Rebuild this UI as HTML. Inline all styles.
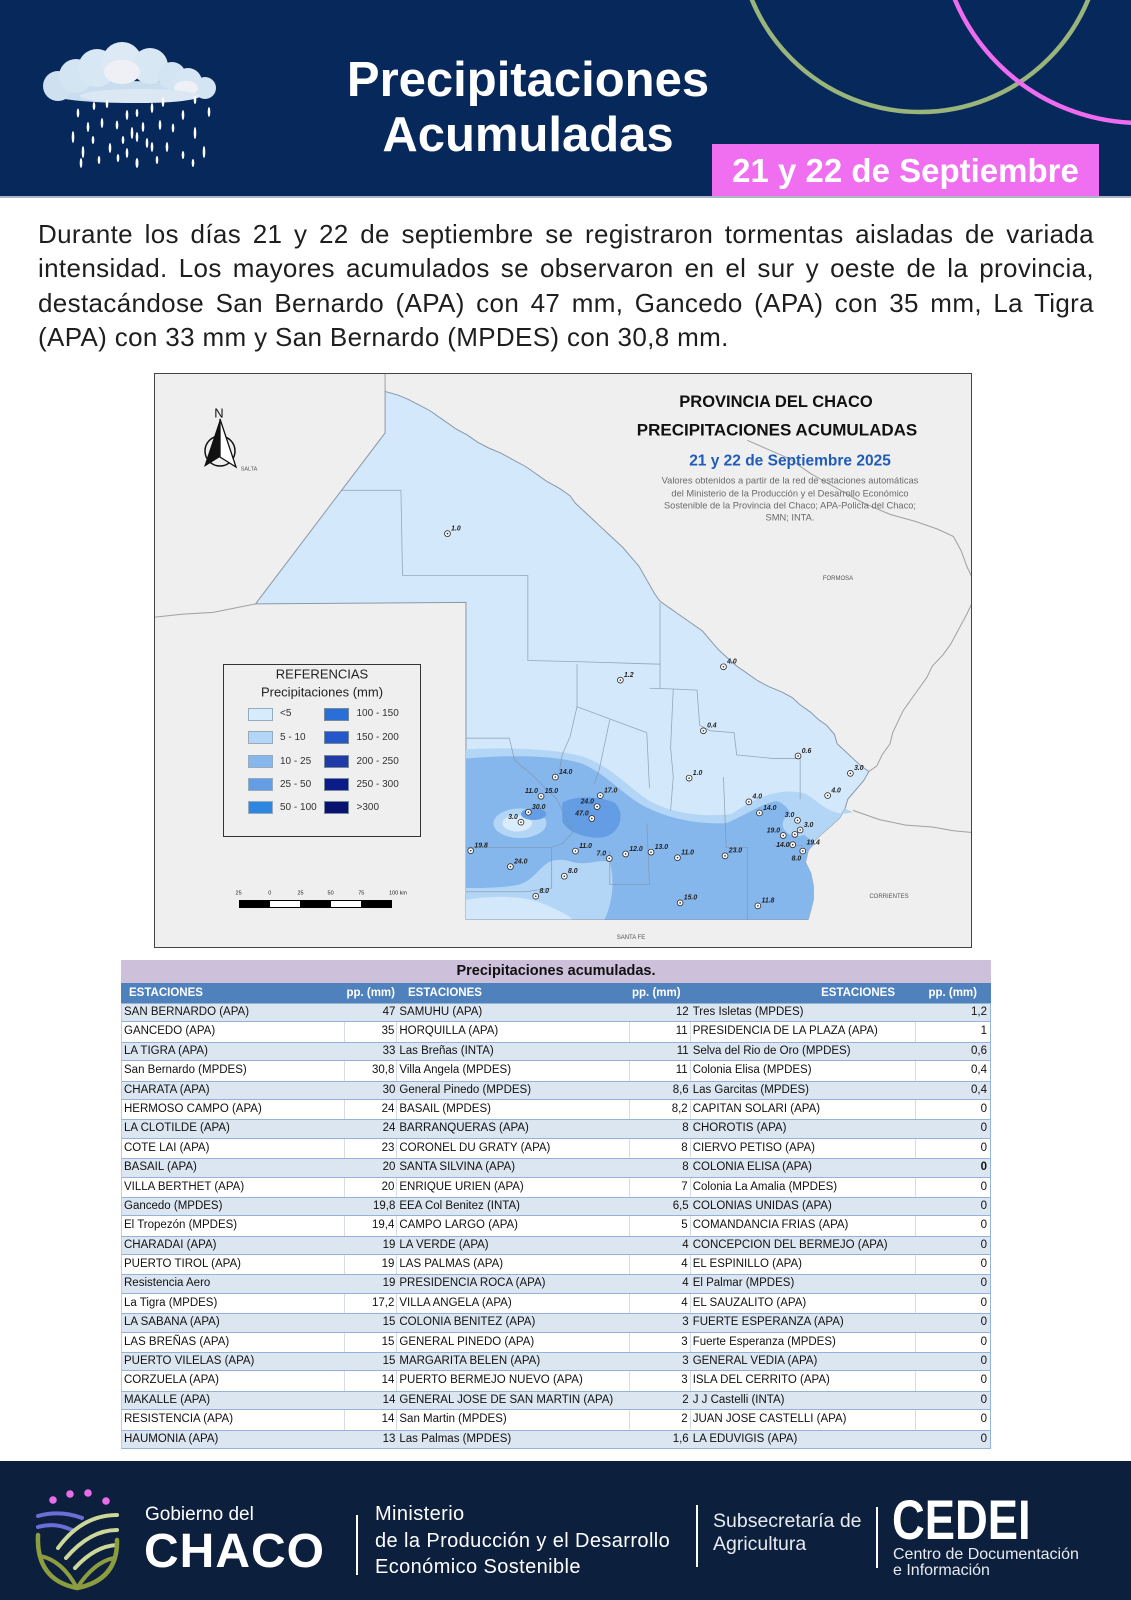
<!DOCTYPE html>
<html><head><meta charset="utf-8">
<style>
*{margin:0;padding:0;box-sizing:border-box}
body{width:1131px;height:1600px;position:relative;overflow:hidden;background:#fff;font-family:"Liberation Sans",sans-serif}
.abs{position:absolute}
.ctr{position:absolute;transform:translate(-50%,-50%);white-space:nowrap;line-height:1}
.pl{position:absolute;left:38px;width:1056px;font-size:26px;line-height:34.4px;letter-spacing:0.35px;color:#1e1e1e;text-align:justify;text-align-last:justify;white-space:nowrap}
.pl.last{text-align:left;text-align-last:left}
.tbl{position:absolute;left:121px;top:960px;width:870px}
.tt{height:23px;background:#ccc0da;text-align:center;font-weight:bold;font-size:14.5px;line-height:23px;color:#111}
.hd{height:20px;background:#4f81bd;color:#fff;font-weight:bold;font-size:11.5px;line-height:20px;display:flex}
.r{display:flex;height:19.4px;font-size:11.5px;line-height:19.4px;color:#111;border-left:1px solid #b8cce4;border-right:1px solid #95b3d7}
.r.b{background:#dce6f1;border-top:1px solid #95b3d7;border-bottom:1px solid #95b3d7;line-height:17.4px}
.r span,.hd span{display:block;white-space:nowrap;overflow:hidden}
.c1{width:224px;padding-left:2px}
.c2{width:52px;text-align:right;padding-right:2px}
.c3{width:233px;padding-left:2px}
.c4{width:61px;text-align:right;padding-right:2px}
.c5{width:226px;padding-left:2px}
.c6{width:74px;text-align:right;padding-right:3px}
.r.w .c1,.r.w .c2,.r.w .c3,.r.w .c4,.r.w .c5{border-right:1px solid #d6dce6}
.st text{font:italic bold 13px "Liberation Sans",sans-serif;fill:#222}
.ft{position:absolute;color:#fff;white-space:nowrap}
</style></head><body>

<!-- HEADER -->
<div class="abs" style="left:0;top:0;width:1131px;height:196px;background:#07285a"></div>
<svg class="abs" style="left:0;top:0" width="1131" height="196">
 <circle cx="920" cy="-70" r="182" fill="none" stroke="#9ab57b" stroke-width="4.5"/>
 <circle cx="1141" cy="-79" r="202" fill="none" stroke="#ee6cf0" stroke-width="4.5"/>
 <g>
  <ellipse cx="128" cy="92" rx="82" ry="11" fill="#c9ddef"/>
  <circle cx="58" cy="86" r="15" fill="#cfe1f1"/>
  <circle cx="76" cy="76" r="17" fill="#d3e4f3"/>
  <circle cx="97" cy="68" r="19" fill="#d8e7f4"/>
  <circle cx="122" cy="62" r="20" fill="#dde9f5"/>
  <circle cx="150" cy="66" r="18" fill="#d8e7f4"/>
  <circle cx="172" cy="76" r="14" fill="#d3e4f3"/>
  <circle cx="188" cy="82" r="14" fill="#d6e6f4"/>
  <circle cx="205" cy="88" r="11" fill="#d3e4f3"/>
  <ellipse cx="122" cy="72" rx="18" ry="12" fill="#eef0f6"/>
  <ellipse cx="186" cy="88" rx="12" ry="7" fill="#eff0f5"/>
  <ellipse cx="140" cy="96" rx="60" ry="7" fill="#dbe8f4"/>
 </g>
 <g fill="#fff">
  <ellipse cx="78" cy="113" rx="1.3" ry="4.5"/><ellipse cx="94" cy="106" rx="1.3" ry="4"/>
  <ellipse cx="107" cy="104" rx="1.3" ry="4"/><ellipse cx="88" cy="127" rx="1.3" ry="5"/>
  <ellipse cx="73" cy="137" rx="1.3" ry="6"/><ellipse cx="102" cy="123" rx="1.3" ry="5"/>
  <ellipse cx="117" cy="125" rx="1.3" ry="4.5"/><ellipse cx="127" cy="115" rx="1.3" ry="5"/>
  <ellipse cx="137" cy="113" rx="1.3" ry="4"/><ellipse cx="152" cy="108" rx="1.3" ry="5"/>
  <ellipse cx="163" cy="102" rx="1.3" ry="5"/><ellipse cx="183" cy="115" rx="1.3" ry="5"/>
  <ellipse cx="195" cy="100" rx="1.3" ry="4"/><ellipse cx="209" cy="112" rx="1.3" ry="5"/>
  <ellipse cx="132" cy="133" rx="1.3" ry="6"/><ellipse cx="137" cy="137" rx="1.3" ry="5"/>
  <ellipse cx="143" cy="127" rx="1.3" ry="5"/><ellipse cx="160" cy="125" rx="1.3" ry="5"/>
  <ellipse cx="173" cy="128" rx="1.3" ry="4.5"/><ellipse cx="195" cy="133" rx="1.3" ry="6"/>
  <ellipse cx="83" cy="152" rx="1.3" ry="6"/><ellipse cx="110" cy="148" rx="1.3" ry="5"/>
  <ellipse cx="93" cy="140" rx="1.3" ry="4"/><ellipse cx="123" cy="140" rx="1.3" ry="4"/>
  <ellipse cx="147" cy="143" rx="1.3" ry="5"/><ellipse cx="167" cy="147" rx="1.3" ry="5"/>
  <ellipse cx="183" cy="155" rx="1.3" ry="4"/><ellipse cx="204" cy="152" rx="1.3" ry="6"/>
  <ellipse cx="81" cy="163" rx="1.3" ry="5"/><ellipse cx="99" cy="160" rx="1.3" ry="4"/>
  <ellipse cx="127" cy="153" rx="1.3" ry="5"/><ellipse cx="137" cy="163" rx="1.5" ry="5"/>
  <ellipse cx="157" cy="160" rx="1.3" ry="4"/><ellipse cx="193" cy="163" rx="1.3" ry="4"/>
  <ellipse cx="152" cy="147" rx="1.3" ry="5"/><ellipse cx="118" cy="158" rx="1.3" ry="4"/>
 </g>
</svg>
<div class="abs" style="left:278px;top:52.5px;width:500px;text-align:center;color:#fff;font-weight:bold;font-size:49px;line-height:55px">Precipitaciones<br>Acumuladas</div>
<div class="abs" style="left:712px;top:144px;width:387px;height:52px;background:#ef6ff0;color:#fff;font-weight:bold;font-size:33px;line-height:52px;text-align:center;padding-top:1px;white-space:nowrap">21 y 22 de Septiembre</div>
<div class="abs" style="left:0;top:196px;width:1131px;height:2px;background:#aab4c5"></div>

<!-- PARAGRAPH -->
<div class="pl" style="top:217px">Durante los días 21 y 22 de septiembre se registraron tormentas aisladas de variada</div>
<div class="pl" style="top:251.4px">intensidad. Los mayores acumulados se observaron en el sur y oeste de la provincia,</div>
<div class="pl" style="top:285.8px">destacándose San Bernardo (APA) con 47 mm, Gancedo (APA) con 35 mm, La Tigra</div>
<div class="pl last" style="top:320.2px">(APA) con 33 mm y San Bernardo (MPDES) con 30,8 mm.</div>

<!-- MAP -->
<svg class="abs" style="left:154px;top:373px" width="818" height="575" viewBox="8 8 1547 1554" preserveAspectRatio="none">
 <rect x="8" y="8" width="1547" height="1554" fill="#efefef"/>
 <g fill="none" stroke="#a0a0a0" stroke-width="1">
  <path vector-effect="non-scaling-stroke" d="M445,8 L445,58"/>
  <path vector-effect="non-scaling-stroke" d="M8,668 L60,660 L120,655 L200,632"/>
  <path vector-effect="non-scaling-stroke" d="M1360,1085 L1375,1070 L1385,1040 L1400,1010 L1405,980 L1415,950 L1425,920 L1440,890 L1455,860 L1470,830 L1480,800 L1500,770 L1515,740 L1530,700 L1545,660 L1555,630"/>
  <path vector-effect="non-scaling-stroke" d="M1130,190 L1170,215 L1210,240 L1250,280 L1300,320 L1350,360 L1400,390 L1450,410 L1490,430 L1520,450 L1535,490 L1545,530 L1555,560"/>
  <path vector-effect="non-scaling-stroke" d="M1330,1190 L1380,1215 L1430,1230 L1480,1235 L1520,1245 L1555,1250"/>
 </g>
 <path vector-effect="non-scaling-stroke" fill="#d3e9fb" stroke="#8a98a8" stroke-width="1" d="M445,58 L470,68 L490,80 L510,95 L530,110 L545,125 L560,140 L580,160 L600,175 L620,195 L640,210 L665,225 L690,245 L710,260 L730,280 L750,300 L775,320 L795,340 L805,360 L820,380 L835,400 L850,420 L865,440 L880,460 L895,480 L910,505 L925,530 L935,555 L945,580 L955,605 L965,625 L985,645 L1005,665 L1025,685 L1045,705 L1060,730 L1075,755 L1090,775 L1110,800 L1130,820 L1150,840 L1170,855 L1195,870 L1215,885 L1230,905 L1250,925 L1265,945 L1280,960 L1295,985 L1300,1010 L1315,1030 L1330,1050 L1345,1070 L1360,1085 L1350,1110 L1335,1135 L1320,1160 L1315,1185 L1305,1210 L1290,1230 L1270,1255 L1255,1275 L1245,1300 L1240,1330 L1250,1360 L1255,1395 L1255,1430 L1250,1460 L1245,1485 L598,1485 L598,628 L200,632 L445,170 Z"/>
 <path fill="#b4d6f6" d="M598,1025 C650,1020 760,1020 820,1045 C870,1070 900,1120 940,1160 C980,1195 1040,1210 1100,1200 C1140,1160 1190,1125 1240,1145 C1270,1170 1290,1210 1330,1195 L1315,1185 L1305,1210 L1290,1230 L1270,1255 L1255,1275 L1245,1300 L1240,1330 L1250,1360 L1255,1395 L1255,1430 L1250,1460 L1245,1485 L598,1485 Z"/>
 <path fill="#86b7ec" d="M598,1050 C680,1040 770,1040 820,1065 C865,1095 890,1140 930,1175 C975,1210 1030,1228 1090,1225 C1130,1200 1160,1170 1185,1165 C1210,1175 1215,1210 1225,1240 C1240,1260 1255,1275 1258,1280 L1245,1300 L1240,1330 L1250,1360 L1255,1395 L1255,1430 L1250,1460 L1245,1485 L860,1485 C875,1440 880,1380 870,1330 C850,1320 830,1340 800,1330 C780,1320 760,1320 745,1340 C730,1360 720,1380 700,1390 C670,1400 630,1400 598,1400 Z"/>
 <path fill="#d3e9fb" d="M598,1432 C650,1420 700,1420 740,1440 C770,1458 790,1472 800,1485 L598,1485 Z"/>
 <ellipse cx="1225" cy="1228" rx="28" ry="32" fill="#b4d6f6"/>
 <ellipse cx="700" cy="1225" rx="50" ry="40" fill="#b4d6f6"/>
 <ellipse cx="695" cy="1225" rx="28" ry="22" fill="#d8ecfc"/>
 <path fill="#649de4" d="M780,1170 C800,1150 850,1150 880,1170 C900,1200 890,1250 860,1262 C830,1270 790,1250 780,1220 Z"/>
 <ellipse cx="726" cy="1200" rx="24" ry="16" fill="#649de4"/>
 <g fill="none" stroke="#7f91a6" stroke-width="0.8" opacity="0.75">
  <path vector-effect="non-scaling-stroke" d="M362,325 L475,325 L478,555 L598,555 L715,555 L715,785 L808,788 L965,795"/>
  <path vector-effect="non-scaling-stroke" d="M965,630 L965,860"/>
  <path vector-effect="non-scaling-stroke" d="M808,795 L808,910 L940,980 L945,1130"/>
  <path vector-effect="non-scaling-stroke" d="M808,910 L795,990 L780,1040 L775,1080"/>
  <path vector-effect="non-scaling-stroke" d="M870,945 L850,1080 L840,1120"/>
  <path vector-effect="non-scaling-stroke" d="M945,860 L990,862 L985,1020 L990,1100 L985,1190"/>
  <path vector-effect="non-scaling-stroke" d="M990,862 L1035,865 L1040,960 L1060,975 L1105,980 L1110,1040 L1180,1050 L1230,1050 L1230,1160"/>
  <path vector-effect="non-scaling-stroke" d="M598,995 L680,995 L690,1055 L720,1090 L770,1160 L800,1250 L780,1280 L760,1290 L760,1400 L710,1410 L640,1410 L598,1410"/>
  <path vector-effect="non-scaling-stroke" d="M1085,1100 L1090,1290 L1130,1290 L1130,1485"/>
  <path vector-effect="non-scaling-stroke" d="M940,1225 L945,1390 L870,1390 L870,1300"/>
  <path vector-effect="non-scaling-stroke" d="M1180,1285 L1235,1285"/>
  <path vector-effect="non-scaling-stroke" d="M598,1290 L760,1290"/>
 </g>
 <g class="st">
  <g transform="translate(563 442) scale(1 1.43)"><circle r="5.5" fill="#fff" stroke="#333" stroke-width="1.6"/><circle r="1.6" fill="#333"/><text x="7" y="-6">1.0</text></g>
  <g transform="translate(1085 802) scale(1 1.43)"><circle r="5.5" fill="#fff" stroke="#333" stroke-width="1.6"/><circle r="1.6" fill="#333"/><text x="7" y="-6">4.0</text></g>
  <g transform="translate(890 838) scale(1 1.43)"><circle r="5.5" fill="#fff" stroke="#333" stroke-width="1.6"/><circle r="1.6" fill="#333"/><text x="7" y="-6">1.2</text></g>
  <g transform="translate(1047 975) scale(1 1.43)"><circle r="5.5" fill="#fff" stroke="#333" stroke-width="1.6"/><circle r="1.6" fill="#333"/><text x="7" y="-6">0.4</text></g>
  <g transform="translate(1226 1043) scale(1 1.43)"><circle r="5.5" fill="#fff" stroke="#333" stroke-width="1.6"/><circle r="1.6" fill="#333"/><text x="7" y="-6">0.6</text></g>
  <g transform="translate(1325 1090) scale(1 1.43)"><circle r="5.5" fill="#fff" stroke="#333" stroke-width="1.6"/><circle r="1.6" fill="#333"/><text x="7" y="-6">3.0</text></g>
  <g transform="translate(1282 1150) scale(1 1.43)"><circle r="5.5" fill="#fff" stroke="#333" stroke-width="1.6"/><circle r="1.6" fill="#333"/><text x="7" y="-6">4.0</text></g>
  <g transform="translate(1020 1103) scale(1 1.43)"><circle r="5.5" fill="#fff" stroke="#333" stroke-width="1.6"/><circle r="1.6" fill="#333"/><text x="7" y="-6">1.0</text></g>
  <g transform="translate(767 1100) scale(1 1.43)"><circle r="5.5" fill="#fff" stroke="#333" stroke-width="1.6"/><circle r="1.6" fill="#333"/><text x="7" y="-6">14.0</text></g>
  <g transform="translate(740 1152) scale(1 1.43)"><circle r="5.5" fill="#fff" stroke="#333" stroke-width="1.6"/><circle r="1.6" fill="#333"/><text x="7" y="-6">15.0</text><text x="-6" y="-6" text-anchor="end">11.0</text></g>
  <g transform="translate(852 1150) scale(1 1.43)"><circle r="5.5" fill="#fff" stroke="#333" stroke-width="1.6"/><circle r="1.6" fill="#333"/><text x="7" y="-6">17.0</text></g>
  <g transform="translate(846 1180) scale(1 1.43)"><circle r="5.5" fill="#fff" stroke="#333" stroke-width="1.6"/><circle r="1.6" fill="#333"/><text x="-6" y="-6" text-anchor="end">24.0</text></g>
  <g transform="translate(716 1195) scale(1 1.43)"><circle r="5.5" fill="#fff" stroke="#333" stroke-width="1.6"/><circle r="1.6" fill="#333"/><text x="7" y="-6">30.0</text></g>
  <g transform="translate(836 1212) scale(1 1.43)"><circle r="5.5" fill="#fff" stroke="#333" stroke-width="1.6"/><circle r="1.6" fill="#333"/><text x="-6" y="-6" text-anchor="end">47.0</text></g>
  <g transform="translate(702 1222) scale(1 1.43)"><circle r="5.5" fill="#fff" stroke="#333" stroke-width="1.6"/><circle r="1.6" fill="#333"/><text x="-6" y="-6" text-anchor="end">3.0</text></g>
  <g transform="translate(607 1299) scale(1 1.43)"><circle r="5.5" fill="#fff" stroke="#333" stroke-width="1.6"/><circle r="1.6" fill="#333"/><text x="7" y="-6">19.8</text></g>
  <g transform="translate(805 1300) scale(1 1.43)"><circle r="5.5" fill="#fff" stroke="#333" stroke-width="1.6"/><circle r="1.6" fill="#333"/><text x="7" y="-6">11.0</text></g>
  <g transform="translate(869 1320) scale(1 1.43)"><circle r="5.5" fill="#fff" stroke="#333" stroke-width="1.6"/><circle r="1.6" fill="#333"/><text x="-6" y="-6" text-anchor="end">7.0</text></g>
  <g transform="translate(900 1308) scale(1 1.43)"><circle r="5.5" fill="#fff" stroke="#333" stroke-width="1.6"/><circle r="1.6" fill="#333"/><text x="7" y="-6">12.0</text></g>
  <g transform="translate(948 1303) scale(1 1.43)"><circle r="5.5" fill="#fff" stroke="#333" stroke-width="1.6"/><circle r="1.6" fill="#333"/><text x="7" y="-6">13.0</text></g>
  <g transform="translate(998 1318) scale(1 1.43)"><circle r="5.5" fill="#fff" stroke="#333" stroke-width="1.6"/><circle r="1.6" fill="#333"/><text x="7" y="-6">11.0</text></g>
  <g transform="translate(1088 1313) scale(1 1.43)"><circle r="5.5" fill="#fff" stroke="#333" stroke-width="1.6"/><circle r="1.6" fill="#333"/><text x="7" y="-6">23.0</text></g>
  <g transform="translate(682 1342) scale(1 1.43)"><circle r="5.5" fill="#fff" stroke="#333" stroke-width="1.6"/><circle r="1.6" fill="#333"/><text x="7" y="-6">24.0</text></g>
  <g transform="translate(784 1368) scale(1 1.43)"><circle r="5.5" fill="#fff" stroke="#333" stroke-width="1.6"/><circle r="1.6" fill="#333"/><text x="7" y="-6">8.0</text></g>
  <g transform="translate(730 1422) scale(1 1.43)"><circle r="5.5" fill="#fff" stroke="#333" stroke-width="1.6"/><circle r="1.6" fill="#333"/><text x="7" y="-6">8.0</text></g>
  <g transform="translate(1003 1440) scale(1 1.43)"><circle r="5.5" fill="#fff" stroke="#333" stroke-width="1.6"/><circle r="1.6" fill="#333"/><text x="7" y="-6">15.0</text></g>
  <g transform="translate(1150 1448) scale(1 1.43)"><circle r="5.5" fill="#fff" stroke="#333" stroke-width="1.6"/><circle r="1.6" fill="#333"/><text x="7" y="-6">11.8</text></g>
  <g transform="translate(1133 1167) scale(1 1.43)"><circle r="5.5" fill="#fff" stroke="#333" stroke-width="1.6"/><circle r="1.6" fill="#333"/><text x="7" y="-6">4.0</text></g>
  <g transform="translate(1153 1197) scale(1 1.43)"><circle r="5.5" fill="#fff" stroke="#333" stroke-width="1.6"/><circle r="1.6" fill="#333"/><text x="7" y="-6">14.0</text></g>
  <g transform="translate(1225 1217) scale(1 1.43)"><circle r="5.5" fill="#fff" stroke="#333" stroke-width="1.6"/><circle r="1.6" fill="#333"/><text x="-6" y="-6" text-anchor="end">3.0</text></g>
  <g transform="translate(1230 1243) scale(1 1.43)"><circle r="5.5" fill="#fff" stroke="#333" stroke-width="1.6"/><circle r="1.6" fill="#333"/><text x="7" y="-6">3.0</text></g>
  <g transform="translate(1198 1258) scale(1 1.43)"><circle r="5.5" fill="#fff" stroke="#333" stroke-width="1.6"/><circle r="1.6" fill="#333"/><text x="-6" y="-6" text-anchor="end">19.0</text></g>
  <g transform="translate(1220 1255) scale(1 1.43)"><circle r="5.5" fill="#fff" stroke="#333" stroke-width="1.6"/><circle r="1.6" fill="#333"/></g>
  <g transform="translate(1216 1283) scale(1 1.43)"><circle r="5.5" fill="#fff" stroke="#333" stroke-width="1.6"/><circle r="1.6" fill="#333"/><text x="-6" y="4" text-anchor="end">14.0</text></g>
  <g transform="translate(1235 1300) scale(1 1.43)"><circle r="5.5" fill="#fff" stroke="#333" stroke-width="1.6"/><circle r="1.6" fill="#333"/><text x="7" y="-12">19.4</text><text x="-3" y="18" text-anchor="end">8.0</text></g>
 </g>
</svg>
<div class="abs" style="left:154px;top:373px;width:818px;height:575px;border:1px solid #444"></div>

<div class="ctr" style="left:776px;top:402px;font-weight:bold;font-size:16.5px;color:#111">PROVINCIA DEL CHACO</div>
<div class="ctr" style="left:777px;top:430px;font-weight:bold;font-size:17px;color:#111">PRECIPITACIONES ACUMULADAS</div>
<div class="ctr" style="left:790px;top:461px;font-weight:bold;font-size:15.5px;color:#1f5cb8">21 y 22 de Septiembre 2025</div>
<div class="ctr" style="left:790px;top:481px;font-size:9.3px;color:#6a6a6a">Valores obtenidos a partir de la red de estaciones automáticas</div>
<div class="ctr" style="left:790px;top:493.6px;font-size:9.3px;color:#6a6a6a">del Ministerio de la Producción y el Desarrollo Económico</div>
<div class="ctr" style="left:790px;top:505.8px;font-size:9.3px;color:#6a6a6a">Sostenible de la Provincia del Chaco; APA-Policía del Chaco;</div>
<div class="ctr" style="left:790px;top:518px;font-size:9.3px;color:#6a6a6a">SMN; INTA.</div>
<div class="ctr" style="left:249px;top:470px;font-size:5.5px;color:#555">SALTA</div>
<div class="ctr" style="left:838px;top:579px;font-size:6px;color:#555">FORMOSA</div>
<div class="ctr" style="left:889px;top:897px;font-size:6px;color:#555">CORRIENTES</div>
<div class="ctr" style="left:631px;top:938px;font-size:6px;color:#555">SANTA FE</div>

<div class="ctr" style="left:219px;top:413px;font-size:13px;color:#111">N</div>
<svg class="abs" style="left:195px;top:415px" width="50" height="56">
 <circle cx="25" cy="36" r="15" fill="none" stroke="#111" stroke-width="1.5"/>
 <polygon points="25,4 9,52 25,42" fill="#111"/>
 <polygon points="25,4 41,52 25,42" fill="#fff" stroke="#111" stroke-width="1.3"/>
</svg>

<div class="abs" style="left:223px;top:664px;width:198px;height:173px;border:1px solid #333;background:#efefef"></div>
<div class="ctr" style="left:322px;top:673.5px;font-size:13px;color:#222">REFERENCIAS</div>
<div class="ctr" style="left:322px;top:692px;font-size:13px;color:#222">Precipitaciones (mm)</div>
<div class="abs" style="left:247.6px;top:707.5px;width:25px;height:13.3px;background:#d6ecfc;border:1px solid #9ab"></div>
<div class="abs" style="left:247.6px;top:730.8px;width:25px;height:13.3px;background:#b4d6f6;border:1px solid #9ab"></div>
<div class="abs" style="left:247.6px;top:754.8px;width:25px;height:13.3px;background:#86b7ec;border:1px solid #9ab"></div>
<div class="abs" style="left:247.6px;top:777.7px;width:25px;height:13.3px;background:#649de4;border:1px solid #9ab"></div>
<div class="abs" style="left:247.6px;top:801px;width:25px;height:13.3px;background:#2d86df;border:1px solid #9ab"></div>
<div class="abs" style="left:324.3px;top:707.5px;width:25px;height:13.3px;background:#2a6fd6;border:1px solid #789"></div>
<div class="abs" style="left:324.3px;top:730.8px;width:25px;height:13.3px;background:#2457c9;border:1px solid #789"></div>
<div class="abs" style="left:324.3px;top:754.8px;width:25px;height:13.3px;background:#1f3aa8;border:1px solid #789"></div>
<div class="abs" style="left:324.3px;top:777.7px;width:25px;height:13.3px;background:#0c1b8a;border:1px solid #789"></div>
<div class="abs" style="left:324.3px;top:801px;width:25px;height:13.3px;background:#0a1270;border:1px solid #789"></div>
<div class="abs" style="left:280px;top:708px;font-size:10px;line-height:12px;color:#333">&lt;5</div>
<div class="abs" style="left:280px;top:731.5px;font-size:10px;line-height:12px;color:#333">5 - 10</div>
<div class="abs" style="left:280px;top:755.5px;font-size:10px;line-height:12px;color:#333">10 - 25</div>
<div class="abs" style="left:280px;top:778.5px;font-size:10px;line-height:12px;color:#333">25 - 50</div>
<div class="abs" style="left:280px;top:802px;font-size:10px;line-height:12px;color:#333">50 - 100</div>
<div class="abs" style="left:356.5px;top:708px;font-size:10px;line-height:12px;color:#333">100 - 150</div>
<div class="abs" style="left:356.5px;top:731.5px;font-size:10px;line-height:12px;color:#333">150 - 200</div>
<div class="abs" style="left:356.5px;top:755.5px;font-size:10px;line-height:12px;color:#333">200 - 250</div>
<div class="abs" style="left:356.5px;top:778.5px;font-size:10px;line-height:12px;color:#333">250 - 300</div>
<div class="abs" style="left:356.5px;top:802px;font-size:10px;line-height:12px;color:#333">&gt;300</div>

<div class="abs" style="left:238.6px;top:900px;width:153.4px;height:7.5px;border:1px solid #000;background:#000"></div>
<div class="abs" style="left:269.8px;top:901px;width:30.7px;height:5.5px;background:#fff"></div>
<div class="abs" style="left:330.6px;top:901px;width:30.7px;height:5.5px;background:#fff"></div>
<div class="ctr" style="left:238.6px;top:894px;font-size:5.5px;color:#222">25</div>
<div class="ctr" style="left:269.8px;top:894px;font-size:5.5px;color:#222">0</div>
<div class="ctr" style="left:300.5px;top:894px;font-size:5.5px;color:#222">25</div>
<div class="ctr" style="left:330.6px;top:894px;font-size:5.5px;color:#222">50</div>
<div class="ctr" style="left:361.3px;top:894px;font-size:5.5px;color:#222">75</div>
<div class="ctr" style="left:398px;top:894px;font-size:5.5px;color:#222">100 km</div>

<!-- TABLE -->
<div class="tbl">
 <div class="tt">Precipitaciones acumuladas.</div>
 <div class="hd"><span style="width:224px;padding-left:8px">ESTACIONES</span><span style="width:52px;text-align:right;padding-right:2px">pp. (mm)</span><span style="width:233px;padding-left:11px">ESTACIONES</span><span style="width:61px;padding-left:2px">pp. (mm)</span><span style="width:226px;text-align:right;padding-right:22px">ESTACIONES</span><span style="width:74px;text-align:right;padding-right:14px">pp. (mm)</span></div>
 <div class="r b"><span class="c1">SAN BERNARDO (APA)</span><span class="c2">47</span><span class="c3">SAMUHU (APA)</span><span class="c4">12</span><span class="c5">Tres Isletas (MPDES)</span><span class="c6">1,2</span></div>
 <div class="r w"><span class="c1">GANCEDO (APA)</span><span class="c2">35</span><span class="c3">HORQUILLA (APA)</span><span class="c4">11</span><span class="c5">PRESIDENCIA DE LA PLAZA (APA)</span><span class="c6">1</span></div>
 <div class="r b"><span class="c1">LA TIGRA (APA)</span><span class="c2">33</span><span class="c3">Las Breñas (INTA)</span><span class="c4">11</span><span class="c5">Selva del Rio de Oro (MPDES)</span><span class="c6">0,6</span></div>
 <div class="r w"><span class="c1">San Bernardo (MPDES)</span><span class="c2">30,8</span><span class="c3">Villa Angela (MPDES)</span><span class="c4">11</span><span class="c5">Colonia Elisa (MPDES)</span><span class="c6">0,4</span></div>
 <div class="r b"><span class="c1">CHARATA (APA)</span><span class="c2">30</span><span class="c3">General Pinedo (MPDES)</span><span class="c4">8,6</span><span class="c5">Las Garcitas (MPDES)</span><span class="c6">0,4</span></div>
 <div class="r w"><span class="c1">HERMOSO CAMPO (APA)</span><span class="c2">24</span><span class="c3">BASAIL (MPDES)</span><span class="c4">8,2</span><span class="c5">CAPITAN SOLARI (APA)</span><span class="c6">0</span></div>
 <div class="r b"><span class="c1">LA CLOTILDE (APA)</span><span class="c2">24</span><span class="c3">BARRANQUERAS (APA)</span><span class="c4">8</span><span class="c5">CHOROTIS (APA)</span><span class="c6">0</span></div>
 <div class="r w"><span class="c1">COTE LAI (APA)</span><span class="c2">23</span><span class="c3">CORONEL DU GRATY (APA)</span><span class="c4">8</span><span class="c5">CIERVO PETISO (APA)</span><span class="c6">0</span></div>
 <div class="r b"><span class="c1">BASAIL (APA)</span><span class="c2">20</span><span class="c3">SANTA SILVINA (APA)</span><span class="c4">8</span><span class="c5">COLONIA ELISA (APA)</span><span class="c6" style="font-weight:bold">0</span></div>
 <div class="r w"><span class="c1">VILLA BERTHET (APA)</span><span class="c2">20</span><span class="c3">ENRIQUE URIEN (APA)</span><span class="c4">7</span><span class="c5">Colonia La Amalia (MPDES)</span><span class="c6">0</span></div>
 <div class="r b"><span class="c1">Gancedo (MPDES)</span><span class="c2">19,8</span><span class="c3">EEA Col Benitez  (INTA)</span><span class="c4">6,5</span><span class="c5">COLONIAS UNIDAS (APA)</span><span class="c6">0</span></div>
 <div class="r w"><span class="c1">El Tropezón (MPDES)</span><span class="c2">19,4</span><span class="c3">CAMPO LARGO (APA)</span><span class="c4">5</span><span class="c5">COMANDANCIA FRIAS (APA)</span><span class="c6">0</span></div>
 <div class="r b"><span class="c1">CHARADAI (APA)</span><span class="c2">19</span><span class="c3">LA VERDE (APA)</span><span class="c4">4</span><span class="c5">CONCEPCION DEL BERMEJO (APA)</span><span class="c6">0</span></div>
 <div class="r w"><span class="c1">PUERTO TIROL (APA)</span><span class="c2">19</span><span class="c3">LAS PALMAS (APA)</span><span class="c4">4</span><span class="c5">EL ESPINILLO (APA)</span><span class="c6">0</span></div>
 <div class="r b"><span class="c1">Resistencia Aero</span><span class="c2">19</span><span class="c3">PRESIDENCIA ROCA (APA)</span><span class="c4">4</span><span class="c5">El Palmar (MPDES)</span><span class="c6">0</span></div>
 <div class="r w"><span class="c1">La Tigra (MPDES)</span><span class="c2">17,2</span><span class="c3">VILLA ANGELA (APA)</span><span class="c4">4</span><span class="c5">EL SAUZALITO (APA)</span><span class="c6">0</span></div>
 <div class="r b"><span class="c1">LA SABANA (APA)</span><span class="c2">15</span><span class="c3">COLONIA BENITEZ (APA)</span><span class="c4">3</span><span class="c5">FUERTE ESPERANZA (APA)</span><span class="c6">0</span></div>
 <div class="r w"><span class="c1">LAS BREÑAS (APA)</span><span class="c2">15</span><span class="c3">GENERAL PINEDO (APA)</span><span class="c4">3</span><span class="c5">Fuerte Esperanza (MPDES)</span><span class="c6">0</span></div>
 <div class="r b"><span class="c1">PUERTO VILELAS (APA)</span><span class="c2">15</span><span class="c3">MARGARITA BELEN (APA)</span><span class="c4">3</span><span class="c5">GENERAL VEDIA (APA)</span><span class="c6">0</span></div>
 <div class="r w"><span class="c1">CORZUELA (APA)</span><span class="c2">14</span><span class="c3">PUERTO BERMEJO NUEVO (APA)</span><span class="c4">3</span><span class="c5">ISLA DEL CERRITO (APA)</span><span class="c6">0</span></div>
 <div class="r b"><span class="c1">MAKALLE (APA)</span><span class="c2">14</span><span class="c3">GENERAL JOSE DE SAN MARTIN (APA)</span><span class="c4">2</span><span class="c5">J J Castelli (INTA)</span><span class="c6">0</span></div>
 <div class="r w"><span class="c1">RESISTENCIA (APA)</span><span class="c2">14</span><span class="c3">San Martin (MPDES)</span><span class="c4">2</span><span class="c5">JUAN JOSE CASTELLI (APA)</span><span class="c6">0</span></div>
 <div class="r b"><span class="c1">HAUMONIA (APA)</span><span class="c2">13</span><span class="c3">Las Palmas (MPDES)</span><span class="c4">1,6</span><span class="c5">LA EDUVIGIS (APA)</span><span class="c6">0</span></div>
</div>

<!-- FOOTER -->
<div class="abs" style="left:0;top:1461px;width:1131px;height:139px;background:#0c1f3c"></div>
<svg class="abs" style="left:0;top:1461px" width="140" height="139" viewBox="0 1461 140 139">
 <g fill="#e96ce9">
  <circle cx="53" cy="1500" r="3.8"/><circle cx="70" cy="1494" r="3.8"/><circle cx="88" cy="1493" r="3.8"/><circle cx="106" cy="1501" r="3.8"/>
 </g>
 <g fill="none" stroke-linecap="round">
  <path d="M38,1516 Q60,1510 82,1518" stroke="#6a6fd6" stroke-width="4"/>
  <path d="M38,1527 Q55,1522 72,1530" stroke="#6a6fd6" stroke-width="4"/>
  <path d="M58,1548 Q82,1515 117,1515" stroke="#ccd899" stroke-width="4"/>
  <path d="M66,1558 Q90,1530 117,1530" stroke="#ccd899" stroke-width="4"/>
  <path d="M75,1568 Q95,1546 117,1545" stroke="#ccd899" stroke-width="4"/>
  <path d="M38,1535 Q36,1580 77,1588 Q118,1580 117,1540" stroke="#8c9d3f" stroke-width="4.5"/>
  <path d="M77,1588 Q62,1560 40,1556" stroke="#8c9d3f" stroke-width="4"/>
  <path d="M77,1588 Q94,1562 114,1558" stroke="#8c9d3f" stroke-width="4"/>
 </g>
</svg>
<div class="ft" style="left:145px;top:1505px;font-size:19px;line-height:19px">Gobierno del</div>
<div class="ft" style="left:144px;top:1528px;font-size:48px;line-height:48px;font-weight:bold;letter-spacing:1px">CHACO</div>
<div class="abs" style="left:356px;top:1515px;width:2px;height:60px;background:#fff"></div>
<div class="ft" style="left:375px;top:1504px;font-size:20px;line-height:20px;letter-spacing:0.4px">Ministerio</div>
<div class="ft" style="left:375px;top:1531px;font-size:20px;line-height:20px;letter-spacing:0.4px">de la Producción y el Desarrollo</div>
<div class="ft" style="left:375px;top:1557px;font-size:20px;line-height:20px;letter-spacing:0.4px">Económico Sostenible</div>
<div class="abs" style="left:696px;top:1505px;width:2px;height:62px;background:#fff"></div>
<div class="ft" style="left:713px;top:1512px;font-size:19.5px;line-height:19.5px;color:#e8ebf0">Subsecretaría de</div>
<div class="ft" style="left:713px;top:1535px;font-size:19.5px;line-height:19.5px;color:#e8ebf0">Agricultura</div>
<div class="abs" style="left:876px;top:1507px;width:2px;height:61px;background:#fff"></div>
<div class="ft" style="left:892px;top:1492px;font-size:56px;line-height:56px;font-weight:bold;transform:scaleX(0.81);transform-origin:0 0">CEDEI</div>
<div class="ft" style="left:893px;top:1547px;font-size:16px;line-height:16px;color:#e8ebf0">Centro de Documentación<br>e Información</div>

</body></html>
